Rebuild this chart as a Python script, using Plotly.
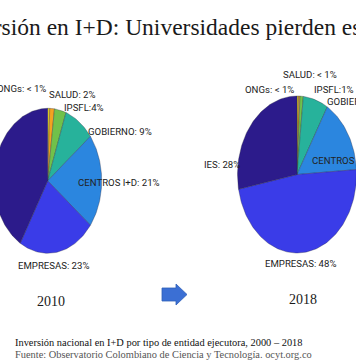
import numpy as np
import plotly.graph_objects as go

# ---------------- data ----------------
categories = ["ONGs", "SALUD", "IPSFL", "GOBIERNO", "CENTROS I+D", "EMPRESAS", "IES"]
share_2010 = [0.6, 1.4, 3.5, 9.0, 21.0, 23.0, 41.5]
share_2018 = [0.4, 0.4, 0.9, 6.8, 15.5, 48.0, 28.0]
labels_2010 = ["ONGs: < 1%", "SALUD: 2%", "IPSFL:4%", "GOBIERNO: 9%",
               "CENTROS I+D: 21%", "EMPRESAS: 23%", None]
labels_2018 = ["ONGs: < 1%", "SALUD: < 1%", "IPSFL:1%", "GOBIERNO: 7%",
               "CENTROS I+D: 16%", "EMPRESAS: 48%", "IES: 28%"]
years = ["2010", "2018"]
title_text = "Inversión en I+D: Universidades pierden espacio"
caption_1 = "Inversión nacional en I+D por tipo de entidad ejecutora, 2000 – 2018"
caption_2 = "Fuente: Observatorio Colombiano de Ciencia y Tecnología. ocyt.org.co"

# ---------------- style ----------------
W, H = 356, 364
colors = ["#f3e01e", "#f2a320", "#70c14a", "#27b29b", "#2b86df", "#3a3ce8", "#2c1b8b"]
edge = "rgba(40,40,60,0.55)"
label_font = dict(family="Roboto, Liberation Sans, Arial", size=9.6, color="#222222")
serif = "Liberation Serif, Times New Roman, serif"

# pie geometry (pixel space): center x, center y, semi-axis x, semi-axis y
pies = [
    dict(values=share_2010, labels=labels_2010, cx=47.7, cy=180.8, a=54.0, b=72.5,
         lab_pos=[(47, 88, "right"), (48, 94.5, "left"), (63, 107, "left"), (87, 131, "left"),
                  (77, 182.5, "left"), (17, 265, "left"), None]),
    dict(values=share_2018, labels=labels_2018, cx=297.0, cy=174.5, a=59.5, b=78.5,
         lab_pos=[(295, 89, "right"), (282, 75, "left"), (313, 89, "left"), (326, 101, "left"),
                  (311, 160, "left"), (264, 263, "left"), (241, 165, "right")]),
]

fig = go.Figure()

for pie in pies:
    vals = np.array(pie["values"], dtype=float)
    frac = vals / vals.sum()
    cum = np.concatenate([[0.0], np.cumsum(frac)])
    for i, cat in enumerate(categories):
        t0, t1 = cum[i] * 2 * np.pi, cum[i + 1] * 2 * np.pi
        n = max(4, int(np.ceil((t1 - t0) / (2 * np.pi) * 240)))
        t = np.linspace(t0, t1, n)
        xs = np.concatenate([[pie["cx"]], pie["cx"] + pie["a"] * np.sin(t), [pie["cx"]]])
        ys = np.concatenate([[pie["cy"]], pie["cy"] - pie["b"] * np.cos(t), [pie["cy"]]])
        fig.add_trace(go.Scatter(
            x=xs, y=ys, mode="lines", fill="toself", fillcolor=colors[i],
            line=dict(color=edge, width=0.6), hoverinfo="skip", showlegend=False, name=cat))


def px(x):
    return x / W


def py(y):
    return 1 - y / H


annotations = []
for pie in pies:
    for lab, pos in zip(pie["labels"], pie["lab_pos"]):
        if lab is None or pos is None:
            continue
        x, y, anchor = pos
        annotations.append(dict(text=lab, x=px(x), y=py(y), xref="paper", yref="paper",
                                xanchor=anchor, yanchor="middle", showarrow=False,
                                font=label_font, borderpad=0))

# title (cropped in the reference slide)
annotations.append(dict(text=title_text, x=px(-50.5), y=py(27), xref="paper", yref="paper",
                        xanchor="left", yanchor="middle", showarrow=False,
                        font=dict(family=serif, size=23.5, color="#1a1a1a")))
# year labels
annotations.append(dict(text=years[0], x=px(35), y=py(301), xref="paper", yref="paper",
                        xanchor="left", yanchor="middle", showarrow=False,
                        font=dict(family=serif, size=14, color="#1a1a1a")))
annotations.append(dict(text=years[1], x=px(287), y=py(299), xref="paper", yref="paper",
                        xanchor="left", yanchor="middle", showarrow=False,
                        font=dict(family=serif, size=14, color="#1a1a1a")))
# captions
annotations.append(dict(text=caption_1, x=px(13), y=py(342.5), xref="paper", yref="paper",
                        xanchor="left", yanchor="middle", showarrow=False,
                        font=dict(family=serif, size=10.4, color="#111111")))
annotations.append(dict(text=caption_2, x=px(13), y=py(354.5), xref="paper", yref="paper",
                        xanchor="left", yanchor="middle", showarrow=False,
                        font=dict(family=serif, size=10.4, color="#555555")))

# arrow between the years
arrow = dict(type="path", xref="x", yref="y",
             path="M162,288 L176,288 L176,284 L187,294.5 L176,305 L176,301 L162,301 Z",
             fillcolor="#3b6fd4", line=dict(color="#2f5fb8", width=0.8))

fig.update_layout(
    width=W, height=H, margin=dict(l=0, r=0, t=0, b=0),
    paper_bgcolor="white", plot_bgcolor="white",
    xaxis=dict(range=[0, W], visible=False, fixedrange=True),
    yaxis=dict(range=[H, 0], visible=False, fixedrange=True),
    annotations=annotations, shapes=[arrow], showlegend=False,
)

fig.write_html("out.html", config={"displayModeBar": False},
               post_script="document.body.style.margin='0';document.body.style.overflow='hidden';")
